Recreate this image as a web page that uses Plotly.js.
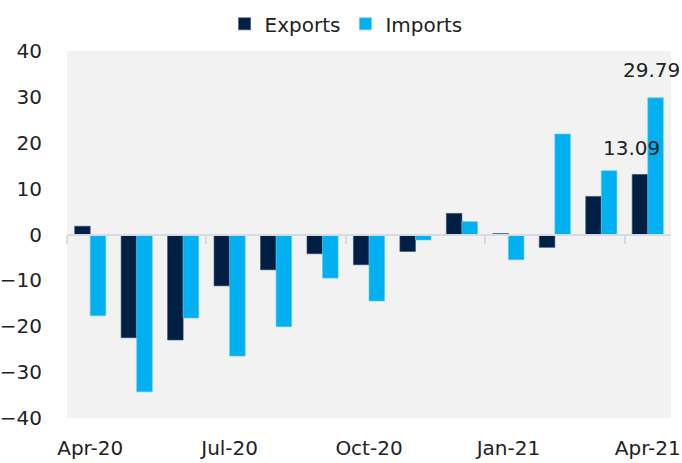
<!DOCTYPE html>
<html>
<head>
<meta charset="utf-8">
<script src="https://cdn.plot.ly/plotly-3.0.1.min.js"></script>
<style>html,body{margin:0;padding:0;background:#fff;}#chart{width:682px;height:463px;}</style>
</head>
<body>
<div id="chart"></div>
<script>
const months = ['Apr-20','May-20','Jun-20','Jul-20','Aug-20','Sep-20','Oct-20','Nov-20','Dec-20','Jan-21','Feb-21','Mar-21','Apr-21'];
const exportsVals = [1.8, -22.5, -23.0, -11.2, -7.7, -4.2, -6.6, -3.7, 4.6, 0.2, -2.8, 8.3, 13.09];
const importsVals = [-17.7, -34.3, -18.2, -26.5, -20.1, -9.5, -14.5, -1.2, 2.8, -5.5, 21.9, 13.9, 29.79];
const tickLabels = ['Apr-20','Jul-20','Oct-20','Jan-21','Apr-21'];
const seriesNames = ['Exports','Imports'];

const FONT = 'DejaVu Sans, Liberation Sans, sans-serif';
const TXT = '#222222';
const last = months.length - 1;

const traces = [
  {type:'bar', name:seriesNames[0], x:months, y:exportsVals, marker:{color:'#001f45', line:{color:'#3b4d6b', width:0.6}}},
  {type:'bar', name:seriesNames[1], x:months, y:importsVals, marker:{color:'#00b0f0', line:{color:'#5ccaf3', width:0.6}}},
  {type:'scatter', x:[-0.5, 12.5], y:[0,0], xaxis:'x2', mode:'lines', line:{width:0}, hoverinfo:'skip', showlegend:false}
];

const layout = {
  width:682, height:463,
  margin:{l:67, r:11, t:51, b:45, autoexpand:false},
  paper_bgcolor:'#ffffff',
  plot_bgcolor:'#f2f2f2',
  font:{family:FONT, size:20, color:TXT},
  barmode:'group',
  bargap:0.33,
  bargroupgap:0,
  showlegend:true,
  legend:{orientation:'h', x:0.462, xanchor:'center', y:1.074, yanchor:'middle', font:{family:FONT, size:20, color:TXT}, bgcolor:'rgba(0,0,0,0)'},
  xaxis:{type:'category', range:[-0.5, 12.5], tickvals:tickLabels, ticktext:tickLabels, showgrid:false, showline:false, zeroline:false, ticks:'', ticklabelstandoff:16, tickfont:{family:FONT, size:20, color:TXT}},
  xaxis2:{overlaying:'x', anchor:'free', position:0.5, side:'bottom', range:[-0.5, 12.5], showline:true, linecolor:'#d5dbe3', linewidth:2, ticks:'outside', ticklen:8, tickwidth:2, tickcolor:'#d5dbe3', tickvals:[-0.5, 2.5, 5.5, 8.5, 11.5], showticklabels:false, showgrid:false, zeroline:false},
  yaxis:{range:[-40, 40], dtick:10, tick0:0, showgrid:false, zeroline:false, showline:false, ticks:'', ticklabelstandoff:24, tickfont:{family:FONT, size:20, color:TXT}},
  annotations:[
    {x:months[last], y:exportsVals[last], text:String(exportsVals[last].toFixed(2)), showarrow:false, xshift:-16, yshift:12, yanchor:'bottom', xanchor:'center', font:{family:FONT, size:20, color:TXT}},
    {x:months[last], y:importsVals[last], text:String(importsVals[last].toFixed(2)), showarrow:false, xshift:4, yshift:14, yanchor:'bottom', xanchor:'center', font:{family:FONT, size:20, color:TXT}}
  ]
};

Plotly.newPlot('chart', traces, layout, {displayModeBar:false, staticPlot:true});
</script>
</body>
</html>
